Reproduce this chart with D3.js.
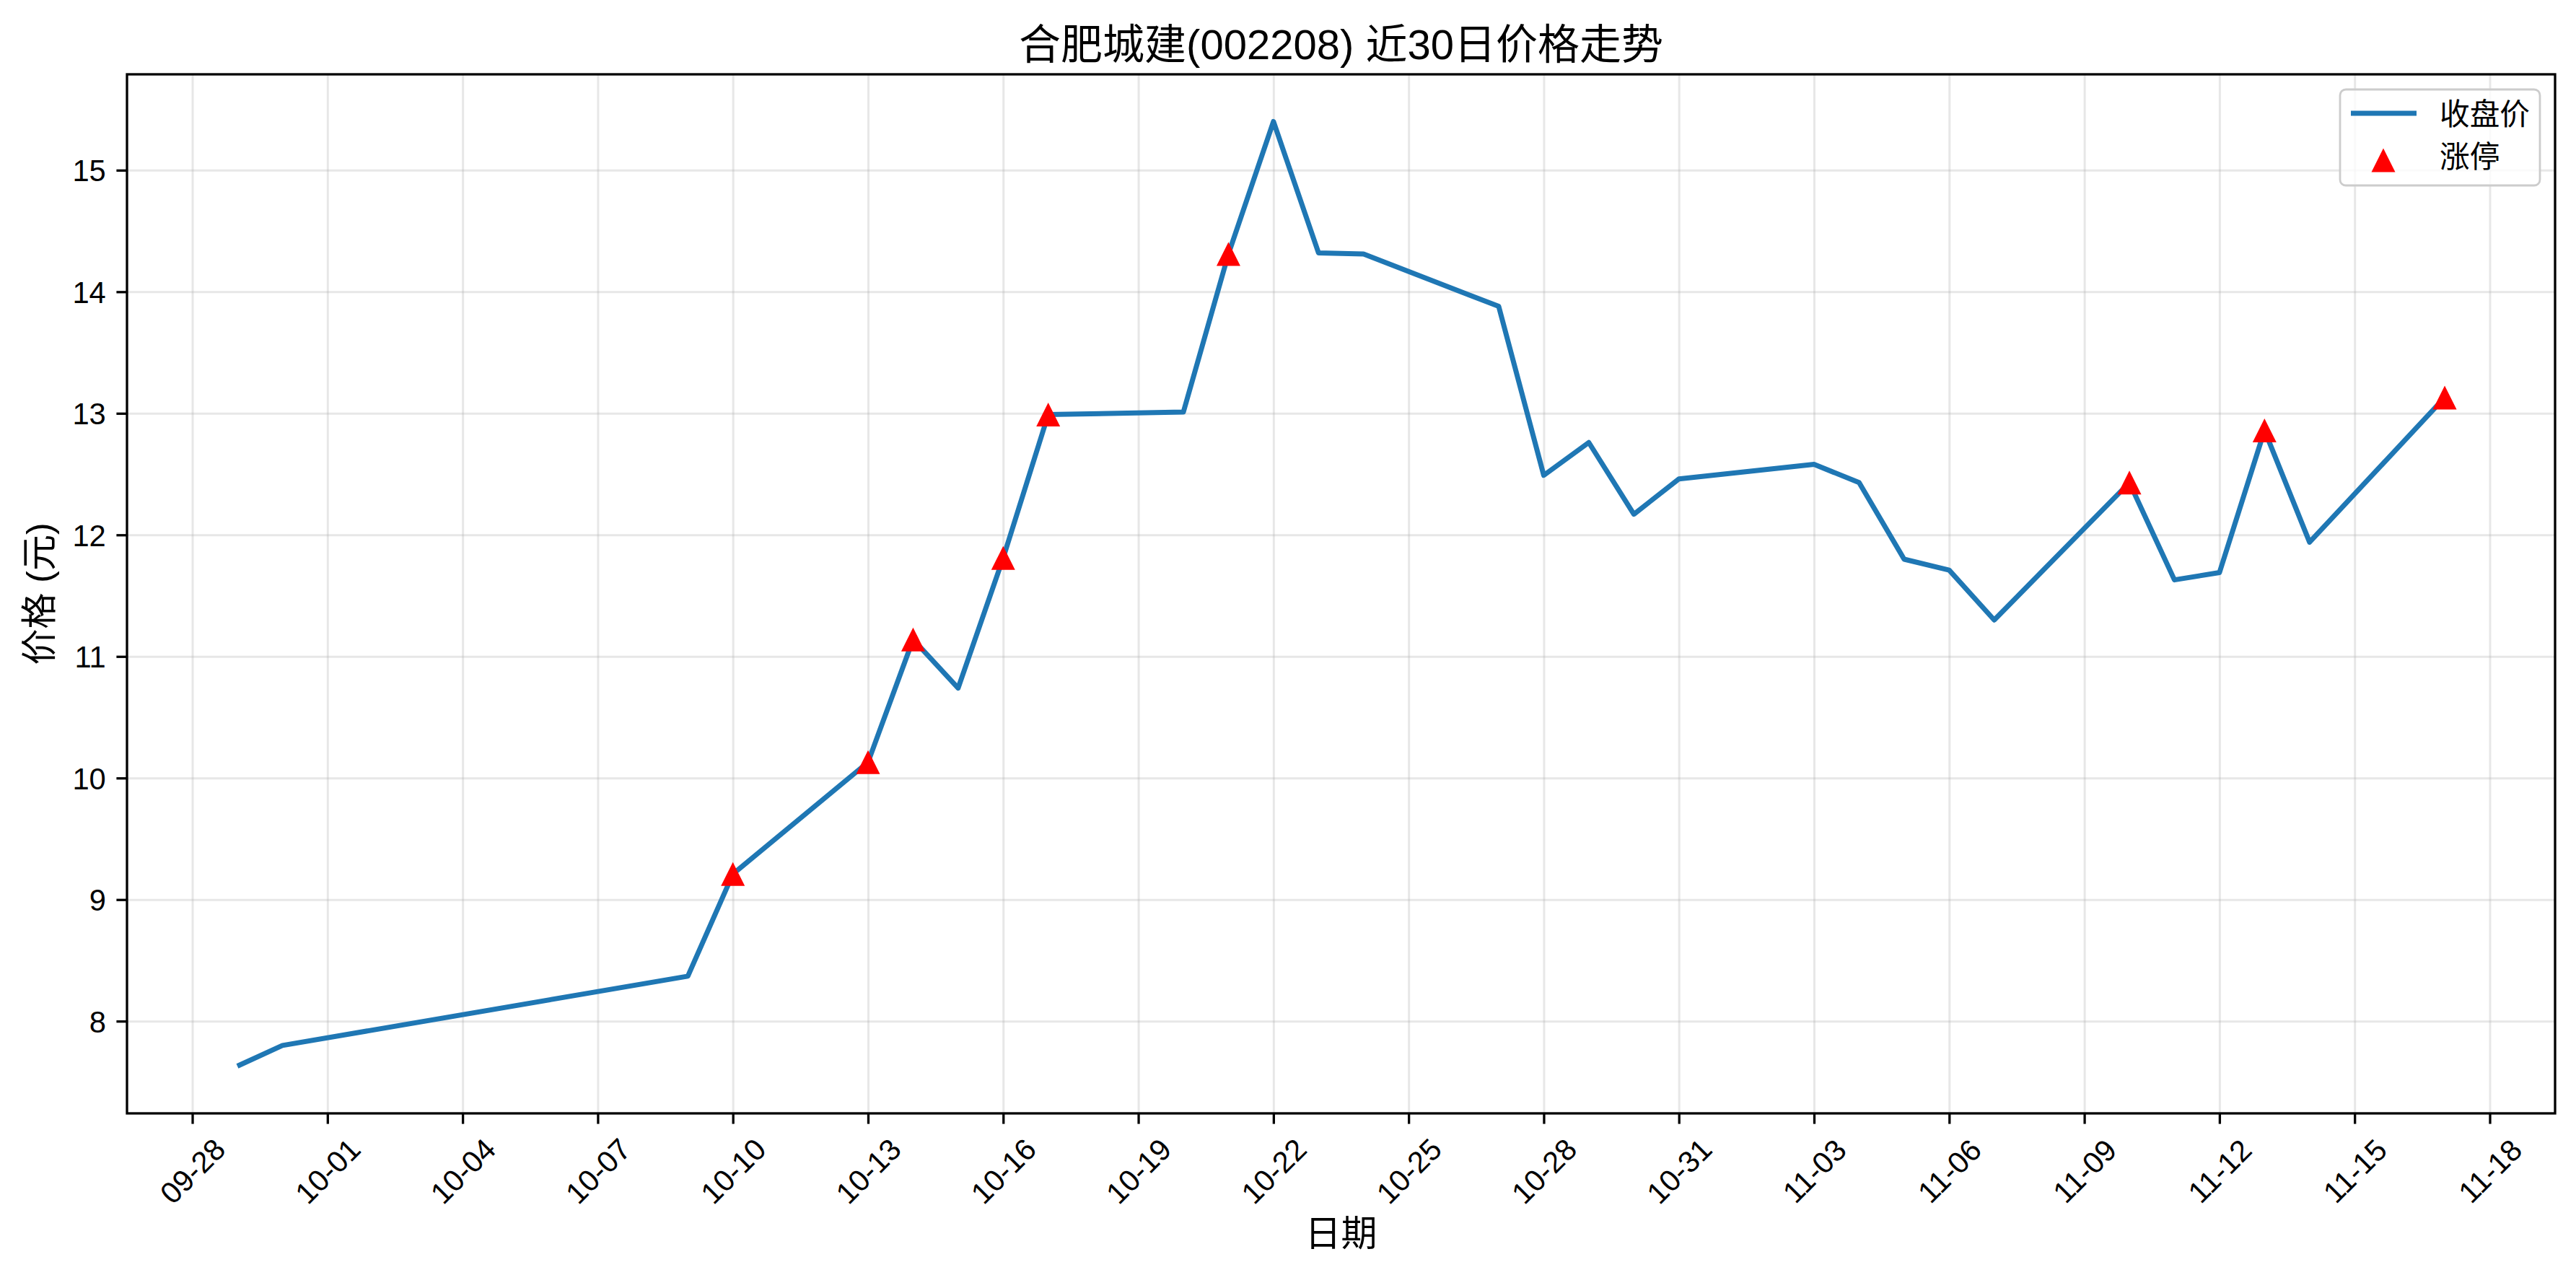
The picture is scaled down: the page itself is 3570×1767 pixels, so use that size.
<!DOCTYPE html>
<html>
<head>
<meta charset="utf-8">
<title>合肥城建 近30日价格走势</title>
<style>
  body { margin: 0; background: #fff; }
  svg text { font-family: "Liberation Sans", "Noto Sans CJK SC", sans-serif; fill: #000; }
</style>
</head>
<body>
<svg id="chart"></svg>
<script src="https://cdn.jsdelivr.net/npm/d3@7"></script>
<script>
// trading days (2025) and closing prices
var dates = ["09-29", "09-30", "10-09", "10-10", "10-13", "10-14", "10-15", "10-16", "10-17", "10-20",
             "10-21", "10-22", "10-23", "10-24", "10-27", "10-28", "10-29", "10-30", "10-31", "11-03",
             "11-04", "11-05", "11-06", "11-07", "11-10", "11-11", "11-12", "11-13", "11-14", "11-17"];
var closes = [7.63, 7.80, 8.37, 9.21, 10.13, 11.14, 10.74, 11.81, 12.99, 13.01,
              14.31, 15.40, 14.32, 14.31, 13.88, 12.49, 12.76, 12.17, 12.46, 12.58,
              12.43, 11.80, 11.71, 11.30, 12.43, 11.63, 11.69, 12.86, 11.94, 13.13];
var limitUpDates = ["10-10", "10-13", "10-14", "10-16", "10-17", "10-21", "11-10", "11-13", "11-17"];
var xTickLabels = ["09-28", "10-01", "10-04", "10-07", "10-10", "10-13", "10-16", "10-19", "10-22",
                   "10-25", "10-28", "10-31", "11-03", "11-06", "11-09", "11-12", "11-15", "11-18"];
var yTicks = [8, 9, 10, 11, 12, 13, 14, 15];
var seriesNames = ["收盘价", "涨停"];
var titleText = "合肥城建(002208) 近30日价格走势";
var xLabel = "日期";
var yLabel = "价格 (元)";

var year = "2025-";
var parse = d3.utcParse("%Y-%m-%d");
var fmt = d3.utcFormat("%m-%d");

var width = 3570, height = 1767;
var plot = {left: 176, right: 3541, top: 103, bottom: 1543};

var svg = d3.select("#chart")
            .attr("width", width)
            .attr("height", height);

var points = dates.map(function(d, i){
  return {date: parse(year + d), close: closes[i], label: d};
});
var limits = points.filter(function(d){ return limitUpDates.indexOf(d.label) >= 0; });

// matplotlib-like 5% margins
var xExt = d3.extent(points, function(d){ return d.date.getTime(); });
var xPad = (xExt[1] - xExt[0]) * 0.05;
var x = d3.scaleUtc()
          .domain([new Date(xExt[0] - xPad), new Date(xExt[1] + xPad)])
          .range([plot.left, plot.right]);

var yExt = d3.extent(closes);
var yPad = (yExt[1] - yExt[0]) * 0.05;
var y = d3.scaleLinear()
          .domain([yExt[0] - yPad, yExt[1] + yPad])
          .range([plot.bottom, plot.top]);

var xTicks = xTickLabels.map(function(d){ return parse(year + d); });
var plotH = plot.bottom - plot.top;
var plotW = plot.right - plot.left;

// grid
svg.append("g")
   .attr("transform", "translate(0," + plot.bottom + ")")
   .call(d3.axisBottom(x).tickValues(xTicks).tickSize(-plotH).tickFormat(""))
   .call(function(g){
     g.select(".domain").remove();
     g.selectAll("line").attr("stroke", "#b0b0b0").attr("stroke-opacity", 0.3).attr("stroke-width", 3);
   });

svg.append("g")
   .attr("transform", "translate(" + plot.left + ",0)")
   .call(d3.axisLeft(y).tickValues(yTicks).tickSize(-plotW).tickFormat(""))
   .call(function(g){
     g.select(".domain").remove();
     g.selectAll("line").attr("stroke", "#b0b0b0").attr("stroke-opacity", 0.3).attr("stroke-width", 3);
   });

// close line
var line = d3.line()
             .x(function(d){ return x(d.date); })
             .y(function(d){ return y(d.close); });

svg.append("path")
   .datum(points)
   .attr("d", line)
   .attr("fill", "none")
   .attr("stroke", "#1f77b4")
   .attr("stroke-width", 7)
   .attr("stroke-linejoin", "round")
   .attr("stroke-linecap", "butt");

// limit-up markers (matplotlib '^')
var tri = "M0,-16.5L16.5,16.5L-16.5,16.5Z";
svg.append("g")
   .selectAll("path")
   .data(limits)
   .enter().append("path")
   .attr("d", tri)
   .attr("transform", function(d){ return "translate(" + x(d.date) + "," + y(d.close) + ")"; })
   .attr("fill", "#ff0000");

// axes
var xAxis = svg.append("g")
   .attr("transform", "translate(0," + plot.bottom + ")")
   .call(d3.axisBottom(x).tickValues(xTicks).tickFormat(fmt).tickSize(14.6).tickSizeOuter(0));
xAxis.select(".domain").remove();
xAxis.selectAll("line").attr("stroke", "#000").attr("stroke-width", 3.3);
xAxis.selectAll("text")
     .attr("y", 0)
     .attr("dy", null)
     .attr("dominant-baseline", "central")
     .attr("text-anchor", "middle")
     .attr("transform", "translate(0,80) rotate(-45)")
     .style("font-size", "41.7px");

var yAxis = svg.append("g")
   .attr("transform", "translate(" + plot.left + ",0)")
   .call(d3.axisLeft(y).tickValues(yTicks).tickSize(14.6).tickPadding(14.6).tickSizeOuter(0));
yAxis.select(".domain").remove();
yAxis.selectAll("line").attr("stroke", "#000").attr("stroke-width", 3.3);
yAxis.selectAll("text")
     .attr("dy", "0.36em")
     .style("font-size", "41.7px");

// frame
svg.append("rect")
   .attr("x", plot.left)
   .attr("y", plot.top)
   .attr("width", plotW)
   .attr("height", plotH)
   .attr("fill", "none")
   .attr("stroke", "#000")
   .attr("stroke-width", 3.3);

// title & labels
svg.append("text")
   .attr("x", (plot.left + plot.right) / 2)
   .attr("y", 82)
   .attr("text-anchor", "middle")
   .style("font-size", "58px")
   .text(titleText);

svg.append("text")
   .attr("x", (plot.left + plot.right) / 2)
   .attr("y", 1710)
   .attr("text-anchor", "middle")
   .attr("dominant-baseline", "central")
   .style("font-size", "50px")
   .text(xLabel);

svg.append("text")
   .attr("transform", "translate(55," + (plot.top + plot.bottom) / 2 + ") rotate(-90)")
   .attr("text-anchor", "middle")
   .attr("dominant-baseline", "central")
   .style("font-size", "50px")
   .text(yLabel);

// legend
var legend = svg.append("g").attr("transform", "translate(3243,124)");
legend.append("rect")
      .attr("width", 277)
      .attr("height", 133)
      .attr("rx", 8)
      .attr("fill", "#fff")
      .attr("fill-opacity", 0.8)
      .attr("stroke", "#cccccc")
      .attr("stroke-width", 2.8);
legend.append("line")
      .attr("x1", 15).attr("x2", 106)
      .attr("y1", 33).attr("y2", 33)
      .attr("stroke", "#1f77b4")
      .attr("stroke-width", 7);
legend.append("path")
      .attr("d", tri)
      .attr("transform", "translate(60,98)")
      .attr("fill", "#ff0000");
legend.selectAll("text.lg")
      .data(seriesNames)
      .enter().append("text")
      .attr("class", "lg")
      .attr("x", 138)
      .attr("y", function(d, i){ return 34 + i * 59; })
      .attr("dominant-baseline", "central")
      .style("font-size", "41.7px")
      .text(function(d){ return d; });
</script>
</body>
</html>
